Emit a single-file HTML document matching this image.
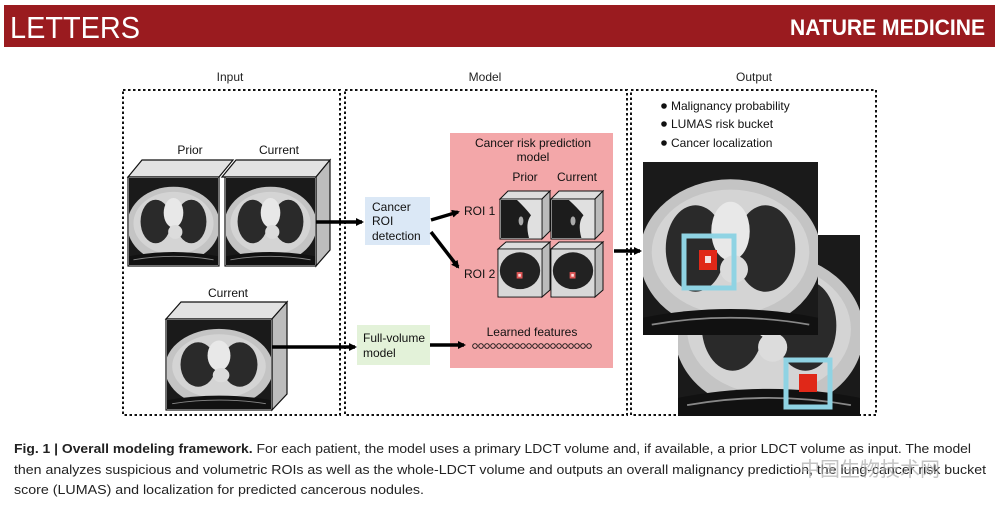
<!DOCTYPE html>
<html><head><meta charset="utf-8"><style>
html,body{margin:0;padding:0;background:#fff;width:999px;height:512px;overflow:hidden}
svg{display:block}
</style></head><body>
<svg width="999" height="512" viewBox="0 0 999 512" xmlns="http://www.w3.org/2000/svg" font-family="Liberation Sans, Arial, sans-serif">
<defs>
<symbol id="ct" viewBox="0 0 100 100" preserveAspectRatio="none">
<rect width="100" height="100" fill="#1a1a1a"/>
<ellipse cx="50" cy="54" rx="52" ry="44" fill="#c4c4c4"/>
<ellipse cx="50" cy="52" rx="45" ry="36" fill="#d4d4d4"/>
<ellipse cx="30" cy="50" rx="17" ry="25" fill="#2a2a2a"/>
<ellipse cx="70" cy="50" rx="17" ry="25" fill="#2a2a2a"/>
<ellipse cx="50" cy="40" rx="11" ry="17" fill="#e8e8e8"/>
<ellipse cx="52" cy="62" rx="8" ry="8" fill="#dcdcdc"/>
<path d="M0 90 Q50 80 100 90 L100 100 L0 100Z" fill="#111"/>
<path d="M5 94 Q50 86 95 94" stroke="#888" stroke-width="1" fill="none"/>
</symbol>
<symbol id="roi1" viewBox="0 0 100 100" preserveAspectRatio="none">
<rect width="100" height="100" fill="#1c1c1c"/>
<path d="M40 0 L100 0 L100 100 L70 100 Q60 60 75 40 Q60 20 40 0Z" fill="#e0e0e0"/>
<ellipse cx="50" cy="55" rx="6" ry="12" fill="#aaa"/>
</symbol>
<symbol id="roi2" viewBox="0 0 100 100" preserveAspectRatio="none">
<rect width="100" height="100" fill="#d8d8d8"/>
<ellipse cx="50" cy="45" rx="48" ry="40" fill="#222"/>
<rect x="42" y="48" width="14" height="14" fill="#d55"/>
<rect x="46" y="52" width="6" height="6" fill="#fdd"/>
</symbol>
<marker id="ah" markerWidth="8" markerHeight="8" refX="6" refY="4" orient="auto" markerUnits="userSpaceOnUse">
<path d="M0 0 L8 4 L0 8Z" fill="#000"/>
</marker>
</defs>

<rect x="4" y="5" width="991" height="42" fill="#9a1b1f"/>
<text x="10" y="38" fill="#fff" font-size="31" textLength="130" lengthAdjust="spacingAndGlyphs">LETTERS</text>
<text x="790" y="35" fill="#fff" font-size="22" font-weight="bold" textLength="195" lengthAdjust="spacingAndGlyphs">NATURE MEDICINE</text>

<g font-size="12" fill="#222" text-anchor="middle">
<text x="230" y="81">Input</text>
<text x="485" y="81">Model</text>
<text x="754" y="81">Output</text>
</g>

<g fill="none" stroke="#111" stroke-width="2" stroke-dasharray="2.5,2.5">
<rect x="123" y="90" width="217" height="325"/>
<rect x="345" y="90" width="282" height="325"/>
<rect x="631" y="90" width="245" height="325"/>
</g>

<g font-size="12" fill="#111" text-anchor="middle">
<text x="190" y="154">Prior</text>
<text x="279" y="154">Current</text>
<text x="228" y="297">Current</text>
</g>
<g stroke="#111" stroke-width="1.2">
<polygon points="128,177 142,160 233,160 219,177" fill="#e2e2e2"/>
<polygon points="222,177 236,160 330,160 316,177" fill="#e2e2e2"/>
<polygon points="316,177 330,160 330,250 316,266" fill="#bdbdbd"/>
<rect x="128" y="177" width="91" height="89" fill="#fff"/>
<rect x="225" y="177" width="91" height="89" fill="#fff"/>
<polygon points="166,319 181,302 287,302 272,319" fill="#e2e2e2"/>
<polygon points="272,319 287,302 287,394 272,410" fill="#bdbdbd"/>
<rect x="166" y="319" width="106" height="91" fill="#fff"/>
</g>
<use href="#ct" x="129" y="178" width="89" height="87"/>
<use href="#ct" x="226" y="178" width="89" height="87"/>
<use href="#ct" x="167" y="320" width="104" height="89"/>

<g stroke="#000" stroke-width="3.5">
<line x1="316" y1="222" x2="362" y2="222" marker-end="url(#ah)"/>
<line x1="272" y1="347" x2="355" y2="347" marker-end="url(#ah)"/>
</g>

<rect x="365" y="197" width="65" height="48" fill="#dbe8f6"/>
<g font-size="12" fill="#111">
<text x="372" y="211">Cancer</text>
<text x="372" y="225">ROI</text>
<text x="372" y="240">detection</text>
</g>
<rect x="357" y="325" width="73" height="40" fill="#e3f2d9"/>
<g font-size="12" fill="#111">
<text x="363" y="342">Full-volume</text>
<text x="363" y="357">model</text>
</g>

<rect x="450" y="133" width="163" height="235" fill="#f3a7a9"/>
<g font-size="12" fill="#111" text-anchor="middle">
<text x="533" y="147">Cancer risk prediction</text>
<text x="533" y="161">model</text>
<text x="525" y="181">Prior</text>
<text x="577" y="181">Current</text>
<text x="532" y="336">Learned features</text>
</g>
<g font-size="12" fill="#111">
<text x="464" y="215">ROI 1</text>
<text x="464" y="278">ROI 2</text>
</g>
<g fill="none" stroke="#111" stroke-width="0.9">
<circle cx="475" cy="346" r="2.3"/><circle cx="481" cy="346" r="2.3"/><circle cx="487" cy="346" r="2.3"/><circle cx="493" cy="346" r="2.3"/><circle cx="499" cy="346" r="2.3"/><circle cx="505" cy="346" r="2.3"/><circle cx="511" cy="346" r="2.3"/><circle cx="517" cy="346" r="2.3"/><circle cx="523" cy="346" r="2.3"/><circle cx="529" cy="346" r="2.3"/><circle cx="535" cy="346" r="2.3"/><circle cx="541" cy="346" r="2.3"/><circle cx="547" cy="346" r="2.3"/><circle cx="553" cy="346" r="2.3"/><circle cx="559" cy="346" r="2.3"/><circle cx="565" cy="346" r="2.3"/><circle cx="571" cy="346" r="2.3"/><circle cx="577" cy="346" r="2.3"/><circle cx="583" cy="346" r="2.3"/><circle cx="589" cy="346" r="2.3"/>
</g>

<g stroke="#111" stroke-width="1">
<polygon points="500,199 508,191 550,191 542,199" fill="#ddd"/>
<polygon points="542,199 550,191 550,231 542,239" fill="#bbb"/>
<rect x="500" y="199" width="42" height="40" fill="#fff"/>
<polygon points="551,199 559,191 603,191 595,199" fill="#ddd"/>
<polygon points="595,199 603,191 603,231 595,239" fill="#bbb"/>
<rect x="551" y="199" width="44" height="40" fill="#fff"/>
<polygon points="498,249 506,242 550,242 542,249" fill="#ddd"/>
<polygon points="542,249 550,242 550,290 542,297" fill="#bbb"/>
<rect x="498" y="249" width="44" height="48" fill="#fff"/>
<polygon points="551,249 559,242 603,242 595,249" fill="#ddd"/>
<polygon points="595,249 603,242 603,290 595,297" fill="#bbb"/>
<rect x="551" y="249" width="44" height="48" fill="#fff"/>
</g>
<use href="#roi1" x="501" y="200" width="40" height="38"/>
<use href="#roi1" x="552" y="200" width="42" height="38"/>
<use href="#roi2" x="499" y="250" width="42" height="46"/>
<use href="#roi2" x="552" y="250" width="42" height="46"/>

<g stroke="#000" stroke-width="3.5">
<line x1="431" y1="220" x2="458" y2="212" marker-end="url(#ah)"/>
<line x1="431" y1="232" x2="458" y2="267" marker-end="url(#ah)"/>
<line x1="430" y1="345" x2="464" y2="345" marker-end="url(#ah)"/>
<line x1="614" y1="251" x2="640" y2="251" marker-end="url(#ah)"/>
</g>

<g font-size="12" fill="#111">
<circle cx="664" cy="106" r="2.8"/><text x="671" y="110">Malignancy probability</text>
<circle cx="664" cy="124" r="2.8"/><text x="671" y="128">LUMAS risk bucket</text>
<circle cx="664" cy="143" r="2.8"/><text x="671" y="147">Cancer localization</text>
</g>
<use href="#ct" x="678" y="235" width="182" height="181"/>
<rect x="786" y="360" width="44" height="47" fill="none" stroke="#8fd3e3" stroke-width="5"/>
<rect x="799" y="374" width="18" height="18" fill="#e02818"/>
<use href="#ct" x="643" y="162" width="175" height="173"/>
<rect x="684" y="236" width="50" height="52" fill="none" stroke="#8fd3e3" stroke-width="5"/>
<rect x="699" y="250" width="18" height="20" fill="#e02818"/>
<rect x="705" y="256" width="6" height="7" fill="#f3e0e0"/>

<g font-size="13" fill="#222">
<text x="14" y="453" textLength="957" lengthAdjust="spacingAndGlyphs"><tspan font-weight="bold">Fig. 1 | Overall modeling framework.</tspan> For each patient, the model uses a primary LDCT volume and, if available, a prior LDCT volume as input. The model</text>
<text x="14" y="474" textLength="972" lengthAdjust="spacingAndGlyphs">then analyzes suspicious and volumetric ROIs as well as the whole-LDCT volume and outputs an overall malignancy prediction, the lung-cancer risk bucket</text>
<text x="14" y="494" textLength="410" lengthAdjust="spacingAndGlyphs">score (LUMAS) and localization for predicted cancerous nodules.</text>
</g>
<text x="800" y="476" font-size="20" fill="#aaa" opacity="0.7" font-family="Liberation Sans, Noto Sans CJK SC, sans-serif">中国生物技术网</text>
</svg>
</body></html>
